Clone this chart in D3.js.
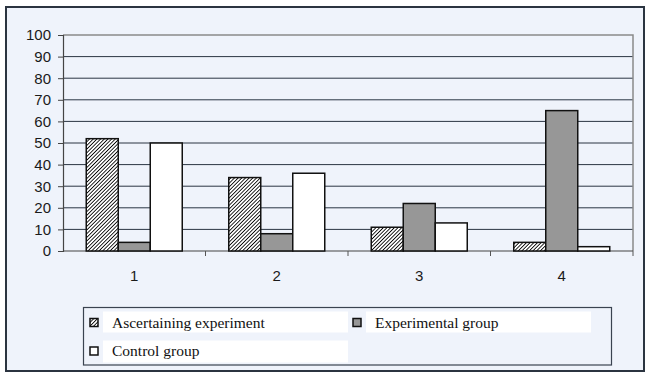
<!DOCTYPE html>
<html>
<head>
<meta charset="utf-8"/>
<title>Bar chart</title>
<script src="https://d3js.org/d3.v7.min.js"></script>
<style>
    body { margin: 0; background: #ffffff; }
    svg { display: block; }
    .tick-label { font-family: "Liberation Sans", Arial, sans-serif; font-size: 15px; fill: #1a1a1a; }
</style>
</head>
<body>
<svg id="chart" width="651" height="377"></svg>
<script>
    // data
    var categories = ["1", "2", "3", "4"];
    var seriesNames = ["Ascertaining experiment", "Experimental group", "Control group"];
    var ascertaining = [52, 34, 11, 4];
    var experimental = [4, 8, 22, 65];
    var control = [50, 36, 13, 2];
    var yTicks = [0, 10, 20, 30, 40, 50, 60, 70, 80, 90, 100];

    var allSeries = [ascertaining, experimental, control];

    var svg = d3.select("#chart");

    var defs = svg.append("defs");
    var hatch = defs.append("pattern")
        .attr("id", "hatch")
        .attr("patternUnits", "userSpaceOnUse")
        .attr("width", 2.6)
        .attr("height", 2.6)
        .attr("patternTransform", "rotate(45)");
    hatch.append("rect").attr("width", 2.6).attr("height", 2.6).attr("fill", "#ffffff");
    hatch.append("line")
        .attr("x1", 0).attr("y1", 0).attr("x2", 0).attr("y2", 2.6)
        .attr("stroke", "#000").attr("stroke-width", 1.7);

    var fills = ["url(#hatch)", "#979797", "#ffffff"];

    // outer frame
    svg.append("rect")
        .attr("x", 6).attr("y", 7)
        .attr("width", 638).attr("height", 364)
        .attr("fill", "#eff3fb")
        .attr("stroke", "#2b3440")
        .attr("stroke-width", 2);

    // note: "top" is taken by window.top, so use plot* names
    var plotLeft = 63, plotRight = 633, plotTop = 35, plotBottom = 251;

    var x = d3.scaleBand().domain(categories).range([plotLeft, plotRight]);
    var xInner = d3.scaleBand().domain(d3.range(seriesNames.length))
        .range([0, 96]);
    var y = d3.scaleLinear().domain([0, 100]).range([plotBottom, plotTop]);

    // gridlines
    svg.append("g").selectAll("line")
        .data(yTicks.filter(function(d){ return d > 0 && d < 100; }))
        .enter().append("line")
        .attr("x1", plotLeft).attr("x2", plotRight)
        .attr("y1", function(d){ return y(d); })
        .attr("y2", function(d){ return y(d); })
        .attr("stroke", "#2a3543")
        .attr("stroke-width", 1);

    // plot border (top and right are grey)
    svg.append("path")
        .attr("d", "M" + plotLeft + "," + y(100) + "H" + plotRight + "V" + plotBottom)
        .attr("fill", "none")
        .attr("stroke", "#8a8a8a")
        .attr("stroke-width", 1.5);

    // y axis
    var yAxis = d3.axisLeft(y).tickValues(yTicks).tickSize(5).tickPadding(7);
    var gy = svg.append("g").attr("transform", "translate(" + plotLeft + ",0)").call(yAxis);
    gy.attr("font-family", null).attr("font-size", null);
    gy.select(".domain").attr("stroke", "#444").attr("stroke-width", 1.2);
    gy.selectAll(".tick line").attr("stroke", "#444");
    gy.selectAll(".tick text").attr("class", "tick-label").attr("fill", null);

    // x axis: ticks at category boundaries
    svg.append("line")
        .attr("x1", plotLeft).attr("x2", plotRight)
        .attr("y1", plotBottom).attr("y2", plotBottom)
        .attr("stroke", "#444").attr("stroke-width", 1.2);
    var bounds = categories.map(function(c){ return x(c); }).concat([plotRight]);
    svg.append("g").selectAll("line")
        .data(bounds.slice(1))
        .enter().append("line")
        .attr("x1", function(d){ return d; })
        .attr("x2", function(d){ return d; })
        .attr("y1", plotBottom).attr("y2", plotBottom + 5)
        .attr("stroke", "#555");
    svg.append("g").selectAll("text")
        .data(categories)
        .enter().append("text")
        .attr("class", "tick-label")
        .attr("x", function(d){ return x(d) + x.bandwidth() / 2; })
        .attr("y", 281)
        .attr("text-anchor", "middle")
        .text(function(d){ return d; });

    // bars
    var groupOffset = (x.bandwidth() - 96) / 2;
    allSeries.forEach(function(values, si) {
        svg.append("g").selectAll("rect")
            .data(values)
            .enter().append("rect")
            .attr("x", function(d, i){ return x(categories[i]) + groupOffset + xInner(si); })
            .attr("y", function(d){ return y(d); })
            .attr("width", xInner.bandwidth())
            .attr("height", function(d){ return plotBottom - y(d); })
            .attr("fill", fills[si])
            .attr("stroke", "#111")
            .attr("stroke-width", 1.5);
    });

    // legend
    svg.append("rect")
        .attr("x", 83.5).attr("y", 307.5)
        .attr("width", 528).attr("height", 57.5)
        .attr("fill", "#eff3fb")
        .attr("stroke", "#3a4350")
        .attr("stroke-width", 1.2);

    var legendItems = [
        {col: 90, row: 322.5, bgX: 103, bgW: 245, bgY: 311.5, bgH: 21},
        {col: 353, row: 322.5, bgX: 366, bgW: 225, bgY: 311.5, bgH: 21},
        {col: 90, row: 351, bgX: 103, bgW: 245, bgY: 340.5, bgH: 22}
    ];
    legendItems.forEach(function(item, i) {
        svg.append("rect")
            .attr("x", item.bgX).attr("y", item.bgY)
            .attr("width", item.bgW).attr("height", item.bgH)
            .attr("fill", "#ffffff");
        svg.append("rect")
            .attr("x", item.col).attr("y", item.row - 4)
            .attr("width", 8).attr("height", 8)
            .attr("fill", fills[i])
            .attr("stroke", "#111")
            .attr("stroke-width", 1.5);
        svg.append("text")
            .style("font-family", "'Liberation Serif', 'Times New Roman', serif")
            .style("font-size", "15.5px")
            .style("fill", "#111")
            .attr("x", item.col + 22)
            .attr("y", item.row + 5)
            .text(seriesNames[i]);
    });
</script>
</body>
</html>
